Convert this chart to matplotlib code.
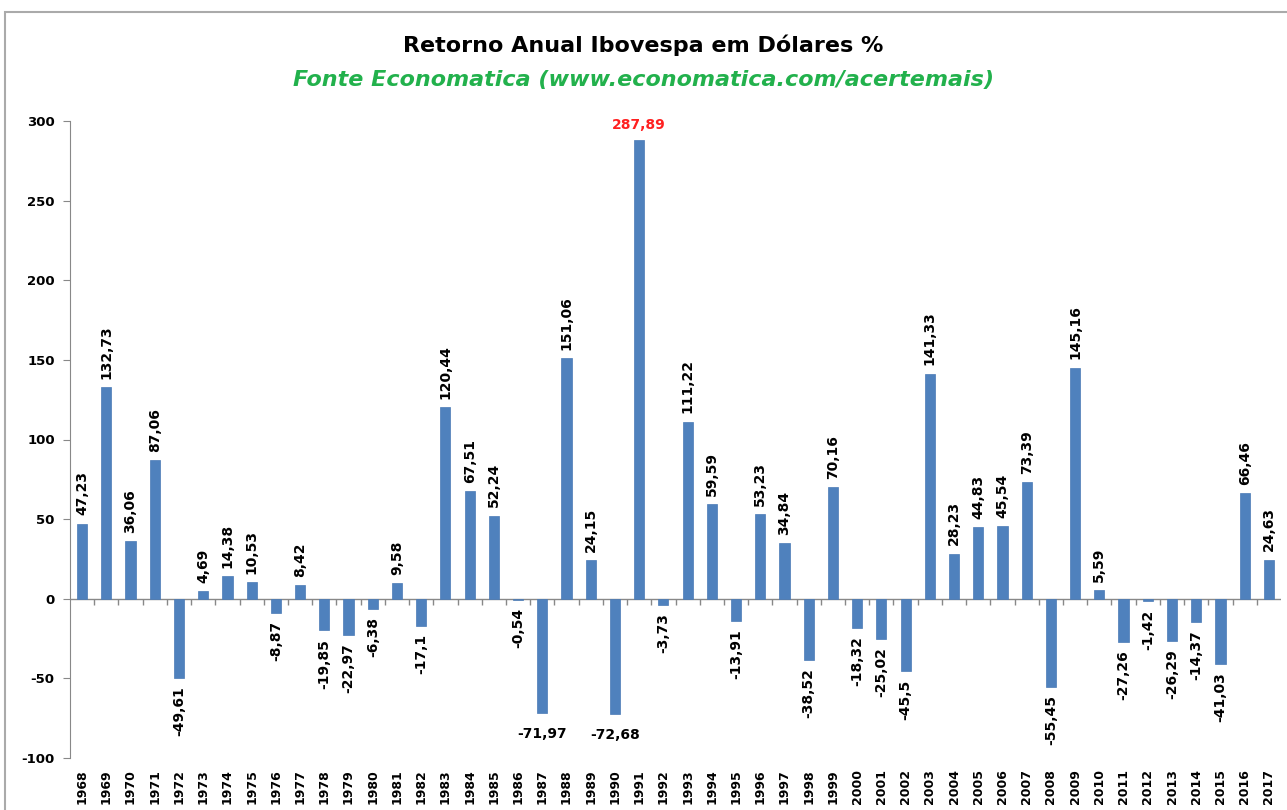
import matplotlib.pyplot as plt
from matplotlib.patches import Rectangle
import numpy as np

plt.rcParams['axes.unicode_minus'] = False

anos = [str(a) for a in range(1968, 2018)]
retornos = [47.23, 132.73, 36.06, 87.06, -49.61, 4.69, 14.38, 10.53, -8.87, 8.42,
            -19.85, -22.97, -6.38, 9.58, -17.1, 120.44, 67.51, 52.24, -0.54, -71.97,
            151.06, 24.15, -72.68, 287.89, -3.73, 111.22, 59.59, -13.91, 53.23, 34.84,
            -38.52, 70.16, -18.32, -25.02, -45.5, 141.33, 28.23, 44.83, 45.54, 73.39,
            -55.45, 145.16, 5.59, -27.26, -1.42, -26.29, -14.37, -41.03, 66.46, 24.63]
rotulos_horizontais = ["1987", "1990", "1991"]
destaque = "1991"

fig = plt.figure(figsize=(12.87, 8.10), dpi=100)
ax = fig.add_axes([70 / 1287, 1 - 758 / 810, 1211 / 1287, (758 - 121) / 810])

x = np.arange(len(anos))
ax.bar(x, retornos, width=0.42, color='#4F81BD', edgecolor='#4A7AB5', linewidth=0.5, zorder=2)

# Rótulos de valores
for i, (ano, v) in enumerate(zip(anos, retornos)):
    txt = str(v).replace('.', ',')
    if ano == destaque:
        ax.annotate(txt, (i, v), xytext=(0, 6), textcoords='offset points',
                    ha='center', va='bottom', fontsize=10, fontweight='bold', color='#FF2020')
    elif ano in rotulos_horizontais:
        ax.annotate(txt, (i, v), xytext=(0, -10), textcoords='offset points',
                    ha='center', va='top', fontsize=10, fontweight='bold', color='black')
    elif v >= 0:
        ax.annotate(txt, (i, v), xytext=(0, 6), textcoords='offset points', rotation=90,
                    ha='center', va='bottom', fontsize=10, fontweight='bold', color='black')
    else:
        ax.annotate(txt, (i, v), xytext=(0, -6), textcoords='offset points', rotation=90,
                    ha='center', va='top', fontsize=10, fontweight='bold', color='black')

# Linha do zero e marcas entre categorias
ax.axhline(0, color='#888888', linewidth=1, zorder=1)
ax.vlines(x[:-1] + 0.5, -4, 0, color='#888888', linewidth=1, zorder=1)

ax.set_xlim(-0.5, len(anos) - 0.5)
ax.set_ylim(-100, 300)
ax.set_yticks([-100, -50, 0, 50, 100, 150, 200, 250, 300])
ax.set_xticks(x)
ax.set_xticklabels(anos, rotation=90, fontsize=9, fontweight='bold')
ax.tick_params(axis='x', length=0, pad=8)
ax.tick_params(axis='y', length=5, color='#888888', labelsize=9.5, pad=6)
for lbl in ax.get_yticklabels():
    lbl.set_fontweight('bold')

for s in ['top', 'right', 'bottom']:
    ax.spines[s].set_visible(False)
ax.spines['left'].set_color('#888888')

# Títulos
fig.text(0.5, 1 - 45 / 810, 'Retorno Anual Ibovespa em Dólares %', ha='center', va='center',
         fontsize=16, fontweight='bold')
fig.text(0.5, 1 - 80 / 810, 'Fonte Economatica (www.economatica.com/acertemais)', ha='center',
         va='center', fontsize=16, fontweight='bold', style='italic', color='#22B14C')

# Moldura do gráfico
fig.patches.append(Rectangle((5 / 1287, -0.1), 1.1, 1 - 12 / 810 + 0.1, transform=fig.transFigure,
                             fill=False, edgecolor='#AAAAAA', linewidth=1.5))

fig.savefig('out.png', dpi=100)
